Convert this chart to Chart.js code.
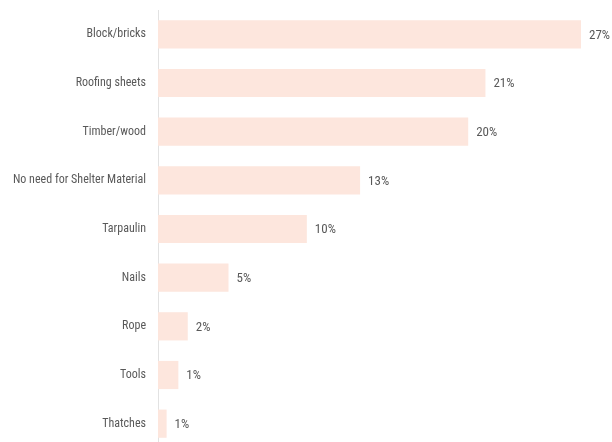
<!DOCTYPE html>
<html lang="en">
<head>
    <meta charset="UTF-8">
    <title>Shelter materials</title>
    <style>
        html, body { margin: 0; padding: 0; background: #fff; overflow: hidden; }
        canvas { display: block; }
    </style>
</head>
<body>
    <canvas id="myChart" width="612" height="450"></canvas>
    <script src="https://cdn.jsdelivr.net/npm/chart.js"></script>
    <script>
        const categories = ['Block/bricks', 'Roofing sheets', 'Timber/wood', 'No need for Shelter Material',
                            'Tarpaulin', 'Nails', 'Rope', 'Tools', 'Thatches'];
        // share of respondents, percent
        const shares = [27.0, 20.9, 19.8, 12.9, 9.5, 4.5, 1.9, 1.3, 0.55];

        const labelFont = '"Liberation Sans Narrow", "Roboto Condensed", Roboto, sans-serif';

        // writes the rounded percentage just past the end of each bar
        const valueLabels = {
            id: 'valueLabels',
            afterDatasetsDraw(chart) {
                const ctx = chart.ctx;
                const meta = chart.getDatasetMeta(0);
                ctx.save();
                ctx.font = '13px ' + labelFont;
                ctx.fillStyle = '#595959';
                ctx.textAlign = 'left';
                ctx.textBaseline = 'middle';
                meta.data.forEach((bar, i) => {
                    ctx.fillText(Math.round(shares[i]) + '%', bar.x + 8, bar.y + 1);
                });
                ctx.restore();
            }
        };

        new Chart(document.getElementById('myChart'), {
            type: 'bar',
            data: {
                labels: categories,
                datasets: [{
                    data: shares,
                    backgroundColor: '#fde6dd',
                    borderWidth: 0,
                    categoryPercentage: 1,
                    barPercentage: 0.58
                }]
            },
            options: {
                indexAxis: 'y',
                responsive: false,
                animation: false,
                layout: { padding: { top: 10, right: 31, bottom: 2, left: 0 } },
                plugins: {
                    legend: { display: false },
                    tooltip: { enabled: false }
                },
                scales: {
                    x: {
                        display: false,
                        min: 0,
                        max: 27
                    },
                    y: {
                        grid: { display: false, drawTicks: false },
                        border: { display: true, color: '#e2e2e2', width: 1 },
                        ticks: {
                            color: '#595959',
                            padding: 12,
                            font: { family: labelFont, size: 12 }
                        },
                        afterFit(scale) {
                            scale.width = 158;
                            scale.paddingTop = 0;
                            scale.paddingBottom = 0;
                        }
                    }
                }
            },
            plugins: [valueLabels]
        });
    </script>
</body>
</html>
